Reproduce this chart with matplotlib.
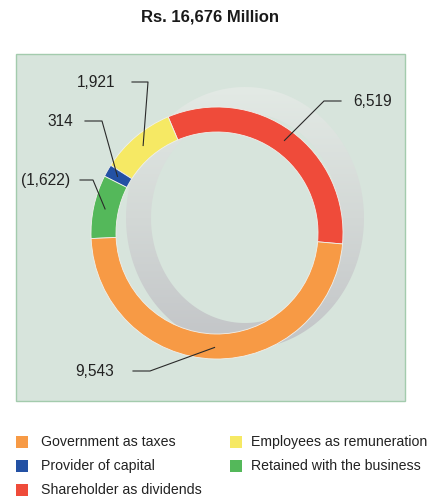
"""Value distribution donut: Rs. 16,676 Million split across stakeholders."""
import numpy as np
import matplotlib
matplotlib.use("Agg")
import matplotlib.pyplot as plt
from matplotlib.colors import LinearSegmentedColormap
from matplotlib.patches import Rectangle, PathPatch
from matplotlib.path import Path

plt.rcParams["font.family"] = ["Liberation Sans", "DejaVu Sans"]

# slices drawn counter-clockwise from 3 o'clock
categories = [
    "Shareholder as dividends",
    "Employees as remuneration",
    "Provider of capital",
    "Retained with the business",
    "Government as taxes",
]
values = [6519, 1921, 314, -1622, 9543]
value_labels = ["6,519", "1,921", "314", "(1,622)", "9,543"]
colors = ["#ef4b3a", "#f6e964", "#2351a4", "#54b85a", "#f79a45"]

legend_order = [4, 1, 2, 3, 0]
title = "Rs. 16,676 Million"

W, H = 430, 498
fig = plt.figure(figsize=(W / 100, H / 100), dpi=100)
ax = fig.add_axes([0, 0, 1, 1])

# green panel behind the chart
ax.add_patch(Rectangle((16, 54), 389, 347, facecolor="#d7e4dc",
                       edgecolor="#a3cbad", linewidth=1.0, zorder=0))

# grey "shadow" ring behind the donut
scx, scy = 245, 218
t = np.linspace(0, 2 * np.pi, 240)
outer = np.column_stack([scx + 119 * np.cos(t), scy + 131 * np.sin(t)])
inner = np.column_stack([scx + 94 * np.cos(t), scy + 105 * np.sin(t)])[::-1]
verts = np.vstack([outer, inner])
codes = ([Path.MOVETO] + [Path.LINETO] * (len(outer) - 2) + [Path.CLOSEPOLY]) * 2
ring = PathPatch(Path(verts, codes), facecolor="none", edgecolor="none",
                 transform=ax.transData)
ax.add_patch(ring)
shade = LinearSegmentedColormap.from_list("shade", ["#e3eae5", "#d3d8d6", "#c2c4c7"])
grad = np.linspace(0, 1, 256).reshape(-1, 1)
im = ax.imshow(grad, cmap=shade, extent=(scx - 120, scx + 120, scy + 132, scy - 132),
               aspect="auto", zorder=1, interpolation="bilinear")
im.set_clip_path(ring)

# donut
cx, cy, r_out, width = 217, 233, 126, 25
wedges, _ = ax.pie(np.abs(values), colors=colors, startangle=5, counterclock=False,
                   center=(cx, cy), radius=r_out, frame=True,
                   wedgeprops=dict(width=width, linewidth=0.6, edgecolor="#f0f0ec"))
for w in wedges:
    w.set_zorder(2)

# label text anchors and elbow of each leader line
label_pos = [(353, 101), (115, 82), (73, 121), (70, 180), (114, 371)]
elbows = [((341, 101), (324, 101)),
          ((132, 82), (148, 82)),
          ((85, 121), (102, 121)),
          ((80, 180), (93, 180)),
          ((133, 371), (150, 371))]
r_mid = r_out - width / 2 + 1
for w, lab, (tx, ty), (p0, p1) in zip(wedges, value_labels, label_pos, elbows):
    mid = np.deg2rad((w.theta1 + w.theta2) / 2)
    px, py = cx + r_mid * np.cos(mid), cy + r_mid * np.sin(mid)
    ax.plot([p0[0], p1[0], px], [p0[1], p1[1], py], color="#2a2a2a",
            linewidth=0.8, zorder=3)
    ha = "left" if tx > cx else "right"
    ax.text(tx, ty, lab, ha=ha, va="center", fontsize=11.2, color="#222222", zorder=4)

ax.text(210, 17, title, ha="center", va="center", fontsize=12,
        fontweight="bold", color="#1a1a1a")

# legend, two columns: (square x, text x, row y)
legend_slots = [(16, 41, 442), (230, 251, 442), (16, 41, 466), (230, 251, 466),
                (16, 41, 490)]
for (sx, tx, ly), idx in zip(legend_slots, legend_order):
    ax.add_patch(Rectangle((sx, ly - 6), 12, 12, facecolor=colors[idx],
                           edgecolor="none"))
    ax.text(tx, ly, categories[idx], ha="left", va="center",
            fontsize=10.2, color="#222222")

ax.set_xlim(0, W)
ax.set_ylim(H, 0)
ax.set_aspect("equal")
ax.axis("off")

fig.savefig("out.png", dpi=100, facecolor="white")
